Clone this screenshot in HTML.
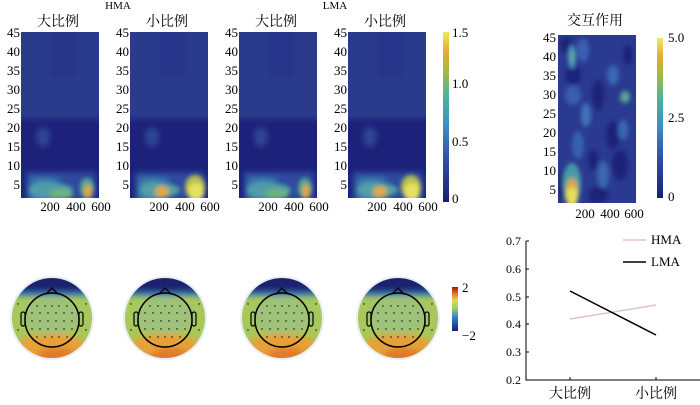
<!DOCTYPE html>
<html><head><meta charset="utf-8"><style>
html,body{margin:0;padding:0;background:#fff;}
svg text{font-family:"Liberation Serif","Noto Serif CJK SC","Noto Sans CJK SC",serif;fill:#000;}
</style></head><body>
<svg width="700" height="400" viewBox="0 0 700 400" xmlns="http://www.w3.org/2000/svg">
<defs>
<filter id="b3" x="-20%" y="-20%" width="140%" height="140%"><feGaussianBlur stdDeviation="3"/></filter>
<filter id="b2" x="-20%" y="-20%" width="140%" height="140%"><feGaussianBlur stdDeviation="2"/></filter>
<clipPath id="hc"><rect x="0" y="0" width="78" height="166"/></clipPath>
<clipPath id="ic"><rect x="0" y="0" width="78" height="168"/></clipPath>
<clipPath id="tc"><circle cx="0" cy="0" r="40"/></clipPath>
<linearGradient id="cb" x1="0" y1="1" x2="0" y2="0">
<stop offset="0" stop-color="#1b1f72"/><stop offset="0.25" stop-color="#2f4fa8"/><stop offset="0.45" stop-color="#3b8fc4"/><stop offset="0.62" stop-color="#4db39a"/><stop offset="0.78" stop-color="#a9bb3c"/><stop offset="0.88" stop-color="#e5a73a"/><stop offset="1" stop-color="#ecec5a"/></linearGradient>
<linearGradient id="cb2" x1="0" y1="1" x2="0" y2="0">
<stop offset="0" stop-color="#1b1f72"/><stop offset="0.3" stop-color="#2f7fc8"/><stop offset="0.5" stop-color="#8fcf6a"/><stop offset="0.7" stop-color="#e8d84a"/><stop offset="0.85" stop-color="#e8722a"/><stop offset="1" stop-color="#a80f10"/></linearGradient>
<g id="hbase">
<rect x="0" y="0" width="78" height="166" fill="#1c217a"/>
<g clip-path="url(#hc)"><g filter="url(#b3)">
<rect x="-5" y="-5" width="90" height="92" fill="#2b3a8c"/>
<rect x="30" y="-5" width="25" height="50" fill="#27358a"/>
<ellipse cx="22" cy="105" rx="7" ry="10" fill="#2f4594"/>
<rect x="5" y="140" width="70" height="30" fill="#2d4a9e"/>
<rect x="8" y="145" width="30" height="25" fill="#3670ac"/>
<ellipse cx="22" cy="158" rx="12" ry="10" fill="#4590b0"/>
</g></g>
</g>
</defs>

<text x="118" y="9" font-size="11" text-anchor="middle">HMA</text>
<text x="335" y="9" font-size="11" text-anchor="middle">LMA</text>

<g transform="translate(21,32)">
<use href="#hbase"/>
<g clip-path="url(#hc)" filter="url(#b2)">
<ellipse cx="30" cy="158" rx="22" ry="7" fill="#4f9ea6"/>
<ellipse cx="40" cy="162" rx="12" ry="5" fill="#72b080"/>
<ellipse cx="66" cy="156" rx="7" ry="10" fill="#5aa890"/>
<ellipse cx="67" cy="160" rx="4" ry="7" fill="#e0a840"/>
</g></g>
<g transform="translate(130,32)">
<use href="#hbase"/>
<g clip-path="url(#hc)" filter="url(#b2)">
<ellipse cx="30" cy="158" rx="20" ry="7" fill="#52a0a2"/>
<ellipse cx="32" cy="160" rx="7" ry="6" fill="#e0a848"/>
<ellipse cx="65" cy="155" rx="10" ry="12" fill="#b8c050"/>
<ellipse cx="66" cy="160" rx="8" ry="9" fill="#e6e060"/>
</g></g>
<g transform="translate(239,32)">
<use href="#hbase"/>
<g clip-path="url(#hc)" filter="url(#b2)">
<ellipse cx="30" cy="158" rx="22" ry="7" fill="#4f9ea6"/>
<ellipse cx="38" cy="162" rx="12" ry="5" fill="#72b080"/>
<ellipse cx="66" cy="156" rx="7" ry="10" fill="#5aa890"/>
<ellipse cx="67" cy="160" rx="4" ry="7" fill="#e0a840"/>
</g></g>
<g transform="translate(348,32)">
<use href="#hbase"/>
<g clip-path="url(#hc)" filter="url(#b2)">
<ellipse cx="30" cy="158" rx="20" ry="7" fill="#52a0a2"/>
<ellipse cx="32" cy="160" rx="7" ry="6" fill="#e0a848"/>
<ellipse cx="63" cy="155" rx="10" ry="12" fill="#b8c050"/>
<ellipse cx="64" cy="160" rx="8" ry="9" fill="#e6e060"/>
</g></g>

<g font-size="14" text-anchor="middle">
<text x="58" y="26">大比例</text><text x="167" y="26">小比例</text>
<text x="276" y="26">大比例</text><text x="385" y="26">小比例</text>
</g>
<g font-size="13" text-anchor="end">
<text x="20" y="37">45</text><text x="20" y="56">40</text><text x="20" y="75">35</text><text x="20" y="94">30</text><text x="20" y="113">25</text><text x="20" y="132">20</text><text x="20" y="151">15</text><text x="20" y="170">10</text><text x="20" y="189">5</text>
<text x="129" y="37">45</text><text x="129" y="56">40</text><text x="129" y="75">35</text><text x="129" y="94">30</text><text x="129" y="113">25</text><text x="129" y="132">20</text><text x="129" y="151">15</text><text x="129" y="170">10</text><text x="129" y="189">5</text>
<text x="238" y="37">45</text><text x="238" y="56">40</text><text x="238" y="75">35</text><text x="238" y="94">30</text><text x="238" y="113">25</text><text x="238" y="132">20</text><text x="238" y="151">15</text><text x="238" y="170">10</text><text x="238" y="189">5</text>
<text x="347" y="37">45</text><text x="347" y="56">40</text><text x="347" y="75">35</text><text x="347" y="94">30</text><text x="347" y="113">25</text><text x="347" y="132">20</text><text x="347" y="151">15</text><text x="347" y="170">10</text><text x="347" y="189">5</text>
</g>
<g font-size="13" text-anchor="middle">
<text x="50" y="211">200</text><text x="76" y="211">400</text><text x="101" y="211">600</text>
<text x="159" y="211">200</text><text x="185" y="211">400</text><text x="210" y="211">600</text>
<text x="268" y="211">200</text><text x="294" y="211">400</text><text x="319" y="211">600</text>
<text x="377" y="211">200</text><text x="403" y="211">400</text><text x="428" y="211">600</text>
</g>
<rect x="443" y="32" width="6" height="170" fill="url(#cb)"/>
<g font-size="13"><text x="452" y="37">1.5</text><text x="452" y="88">1.0</text><text x="452" y="146">0.5</text><text x="452" y="203">0</text></g>

<text x="595" y="25" font-size="14" text-anchor="middle">交互作用</text>
<g transform="translate(558,35)">
<rect width="78" height="168" fill="#2a3a90"/>
<g clip-path="url(#ic)" filter="url(#b2)">
<ellipse cx="8" cy="10" rx="6" ry="8" fill="#1c2478"/>
<ellipse cx="25" cy="15" rx="6" ry="12" fill="#3a5fb2"/>
<ellipse cx="15" cy="40" rx="8" ry="10" fill="#1c2478"/>
<ellipse cx="15" cy="60" rx="8" ry="10" fill="#3a5db0"/>
<ellipse cx="14" cy="22" rx="4" ry="12" fill="#4a8ec0"/>
<ellipse cx="14" cy="22" rx="2" ry="6" fill="#6ab090"/>
<ellipse cx="28" cy="80" rx="5" ry="12" fill="#3f73b8"/>
<ellipse cx="40" cy="60" rx="6" ry="15" fill="#1c2478"/>
<ellipse cx="55" cy="40" rx="6" ry="10" fill="#3a66b2"/>
<ellipse cx="67" cy="62" rx="5" ry="6" fill="#5aa498"/>
<ellipse cx="70" cy="20" rx="5" ry="10" fill="#1c2478"/>
<ellipse cx="55" cy="100" rx="7" ry="14" fill="#1c2478"/>
<ellipse cx="20" cy="110" rx="6" ry="14" fill="#3560b0"/>
<ellipse cx="35" cy="125" rx="5" ry="10" fill="#1c2478"/>
<ellipse cx="62" cy="130" rx="8" ry="15" fill="#1c2478"/>
<ellipse cx="45" cy="140" rx="6" ry="14" fill="#3a66b2"/>
<ellipse cx="65" cy="95" rx="5" ry="10" fill="#3a66b2"/>
<ellipse cx="40" cy="160" rx="10" ry="8" fill="#1c2478"/>
<ellipse cx="5" cy="150" rx="5" ry="15" fill="#1c2478"/>
<ellipse cx="14" cy="148" rx="9" ry="20" fill="#4a9aa8"/>
<ellipse cx="14" cy="155" rx="6" ry="12" fill="#d8a848"/>
<ellipse cx="14" cy="162" rx="6" ry="10" fill="#e6e05a"/>
</g></g>
<g font-size="13" text-anchor="end">
<text x="556" y="42">45</text><text x="556" y="61">40</text><text x="556" y="80">35</text><text x="556" y="99">30</text><text x="556" y="118">25</text><text x="556" y="137">20</text><text x="556" y="156">15</text><text x="556" y="175">10</text><text x="556" y="194">5</text>
</g>
<g font-size="13" text-anchor="middle"><text x="585" y="218">200</text><text x="610" y="218">400</text><text x="634" y="218">600</text></g>
<rect x="657" y="38" width="6" height="160" fill="url(#cb)"/>
<g font-size="13"><text x="668" y="42">5.0</text><text x="668" y="122">2.5</text><text x="668" y="201">0</text></g>

<g id="topo" transform="translate(52,318)">
<circle r="42" fill="#e8eef8"/>
<g clip-path="url(#tc)">
<rect x="-45" y="-45" width="90" height="90" fill="#a8c85a"/>
<g filter="url(#b3)">
<ellipse cx="0" cy="-2" rx="30" ry="18" fill="#9ec27a"/>
<ellipse cx="0" cy="32" rx="38" ry="16" fill="#e8a038"/>
<ellipse cx="5" cy="38" rx="20" ry="8" fill="#e07a2a"/>
<rect x="-45" y="-45" width="90" height="21" fill="#1a2070"/>
<rect x="-45" y="-26" width="90" height="4" fill="#3a7ec0"/>
</g>
</g>
<circle r="27" cy="2" fill="none" stroke="#000" stroke-width="1.5"/>
<path d="M-6,-24 L0,-30 L6,-24" fill="none" stroke="#000" stroke-width="1.3"/>
<rect x="-31" y="-6" width="4" height="14" rx="2" fill="none" stroke="#000" stroke-width="1.2"/>
<rect x="27" y="-6" width="4" height="14" rx="2" fill="none" stroke="#000" stroke-width="1.2"/>
<g fill="#000">
<circle cx="-15" cy="-12" r="0.7"/><circle cx="-7" cy="-12" r="0.7"/><circle cx="0" cy="-12" r="0.7"/><circle cx="7" cy="-12" r="0.7"/><circle cx="15" cy="-12" r="0.7"/>
<circle cx="-20" cy="-5" r="0.7"/><circle cx="-12" cy="-5" r="0.7"/><circle cx="-4" cy="-5" r="0.7"/><circle cx="4" cy="-5" r="0.7"/><circle cx="12" cy="-5" r="0.7"/><circle cx="20" cy="-5" r="0.7"/>
<circle cx="-20" cy="3" r="0.7"/><circle cx="-12" cy="3" r="0.7"/><circle cx="-4" cy="3" r="0.7"/><circle cx="4" cy="3" r="0.7"/><circle cx="12" cy="3" r="0.7"/><circle cx="20" cy="3" r="0.7"/>
<circle cx="-20" cy="11" r="0.7"/><circle cx="-12" cy="11" r="0.7"/><circle cx="-4" cy="11" r="0.7"/><circle cx="4" cy="11" r="0.7"/><circle cx="12" cy="11" r="0.7"/><circle cx="20" cy="11" r="0.7"/>
<circle cx="-15" cy="19" r="0.7"/><circle cx="-7" cy="19" r="0.7"/><circle cx="0" cy="19" r="0.7"/><circle cx="7" cy="19" r="0.7"/><circle cx="15" cy="19" r="0.7"/>
<circle cx="-34" cy="-14" r="0.7"/><circle cx="34" cy="-14" r="0.7"/><circle cx="-34" cy="12" r="0.7"/><circle cx="34" cy="12" r="0.7"/>
</g>
</g>
<use href="#topo" transform="translate(113,0)"/>
<use href="#topo" transform="translate(230,0)"/>
<use href="#topo" transform="translate(346,0)"/>
<rect x="452" y="287" width="6" height="44" fill="url(#cb2)"/>
<g font-size="13"><text x="462" y="292">2</text><text x="462" y="340">−2</text></g>

<g stroke="#000" stroke-width="1" fill="none">
<path d="M526,241 V380 H700"/>
<path d="M526,241 H529 M526,269 H529 M526,297 H529 M526,324 H529 M526,352 H529 M570,380 V377 M656,380 V377"/>
</g>
<g font-size="12" text-anchor="end">
<text x="521" y="245">0.7</text><text x="521" y="273">0.6</text><text x="521" y="301">0.5</text><text x="521" y="328">0.4</text><text x="521" y="356">0.3</text><text x="521" y="384">0.2</text>
</g>
<g font-size="14" text-anchor="middle"><text x="570" y="398">大比例</text><text x="656" y="398">小比例</text></g>
<line x1="570" y1="319" x2="656" y2="305" stroke="#e0c4c8" stroke-width="1.6"/>
<line x1="570" y1="291" x2="656" y2="335" stroke="#000" stroke-width="1.5"/>
<line x1="623" y1="240" x2="646" y2="240" stroke="#e0c4c8" stroke-width="1.6"/>
<line x1="623" y1="262" x2="646" y2="262" stroke="#000" stroke-width="1.5"/>
<g font-size="13"><text x="651" y="244">HMA</text><text x="651" y="266">LMA</text></g>
</svg>
</body></html>
